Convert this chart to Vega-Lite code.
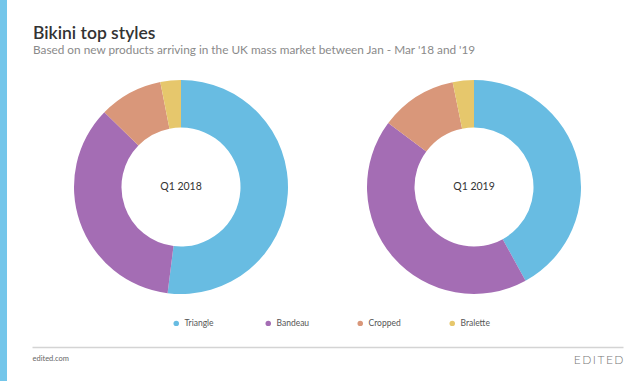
{
  "$schema": "https://vega.github.io/schema/vega-lite/v6.json",
  "width": 621,
  "height": 381,
  "autosize": {"type": "none"},
  "padding": {"left": 7, "top": 0, "right": 0, "bottom": 0},
  "background": "#74C6EA",
  "config": {"view": {"fill": "white", "stroke": null}, "font": "Lato"},
  "title": {
    "text": "Bikini top styles",
    "subtitle": "Based on new products arriving in the UK mass market between Jan - Mar '18 and '19",
    "anchor": "start",
    "frame": "group",
    "dx": 26,
    "offset": -57,
    "font": "Lato",
    "fontSize": 17.5,
    "fontWeight": 600,
    "color": "#333333",
    "subtitleFont": "Lato",
    "subtitleFontSize": 11.8,
    "subtitleColor": "#8a8a8a",
    "subtitlePadding": 3
  },
  "data": {
    "values": [
      {"quarter": "Q1 2018", "style": "Triangle", "share": 52.0, "idx": 1},
      {"quarter": "Q1 2018", "style": "Bandeau", "share": 35.3, "idx": 2},
      {"quarter": "Q1 2018", "style": "Cropped", "share": 9.6, "idx": 3},
      {"quarter": "Q1 2018", "style": "Bralette", "share": 3.1, "idx": 4},
      {"quarter": "Q1 2019", "style": "Triangle", "share": 42.0, "idx": 1},
      {"quarter": "Q1 2019", "style": "Bandeau", "share": 43.2, "idx": 2},
      {"quarter": "Q1 2019", "style": "Cropped", "share": 11.6, "idx": 3},
      {"quarter": "Q1 2019", "style": "Bralette", "share": 3.2, "idx": 4}
    ]
  },
  "encoding": {
    "x": {
      "field": "quarter",
      "type": "nominal",
      "scale": {"type": "point", "range": [25, 616], "padding": 0.5085},
      "axis": {
        "orient": "bottom",
        "offset": -34,
        "labels": false,
        "ticks": false,
        "grid": false,
        "domainColor": "#d4d4d4",
        "domainWidth": 1.3,
        "title": "edited.com",
        "titleX": 25,
        "titleY": 13,
        "titleAlign": "left",
        "titleAnchor": "start",
        "titleBaseline": "alphabetic",
        "titleFont": "Lato",
        "titleFontSize": 7.5,
        "titleFontWeight": "normal",
        "titleColor": "#666666"
      }
    },
    "y": {
      "datum": "all",
      "type": "nominal",
      "scale": {"type": "point", "range": [0, 374]},
      "axis": {
        "orient": "right",
        "domain": false,
        "ticks": false,
        "labels": false,
        "grid": false,
        "title": "E\u2009D\u2009I\u2009T\u2009E\u2009D",
        "titleAngle": 0,
        "titleX": -5,
        "titleY": 363,
        "titleAlign": "right",
        "titleBaseline": "alphabetic",
        "titleFont": "Lato",
        "titleFontSize": 12,
        "titleFontWeight": 300,
        "titleColor": "#777777"
      }
    }
  },
  "layer": [
    {
      "transform": [{"filter": "datum.quarter == 'Q1 2018'"}],
      "mark": {"type": "arc", "innerRadius": 59.5, "outerRadius": 107},
      "encoding": {
        "theta": {"field": "share", "type": "quantitative", "stack": true},
        "order": {"field": "idx", "type": "quantitative"},
        "color": {
          "field": "style",
          "type": "nominal",
          "scale": {"domain": ["Triangle", "Bandeau", "Cropped", "Bralette"], "range": ["#68BCE2", "#A46DB4", "#D9977A", "#E6C76C"]},
          "legend": {
            "orient": "none",
            "legendX": 165,
            "legendY": 319,
            "direction": "horizontal",
            "columns": 4,
            "gridAlign": "all",
            "columnPadding": 46,
            "title": null,
            "symbolType": "circle",
            "symbolSize": 30,
            "symbolStrokeWidth": 0,
            "labelFont": "Lato",
            "labelFontSize": 8.5,
            "labelColor": "#555555",
            "labelOffset": 4
          }
        }
      }
    },
    {
      "transform": [{"filter": "datum.quarter == 'Q1 2019'"}],
      "mark": {"type": "arc", "innerRadius": 59.5, "outerRadius": 107},
      "encoding": {
        "theta": {"field": "share", "type": "quantitative", "stack": true},
        "order": {"field": "idx", "type": "quantitative"},
        "color": {"field": "style", "type": "nominal"}
      }
    },
    {
      "transform": [{"filter": "datum.idx == 1"}],
      "mark": {"type": "text", "font": "Lato", "fontSize": 10.5, "color": "#333333", "align": "center", "baseline": "middle"},
      "encoding": {"text": {"field": "quarter"}}
    }
  ],
  "resolve": {"scale": {"theta": "independent"}}
}
